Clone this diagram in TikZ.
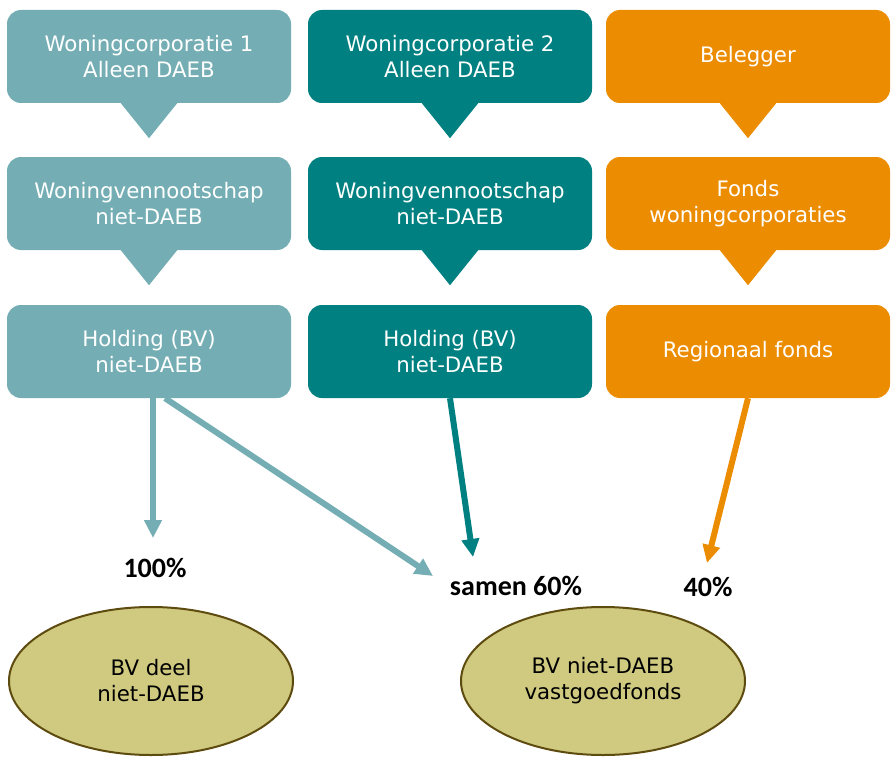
\documentclass[tikz,border=0pt]{standalone}
\usepackage{fontspec}
\setmainfont{DejaVu Sans}
\newfontfamily\labelfont{Carlito}
\usetikzlibrary{shapes.geometric,arrows.meta}
\definecolor{blauwgroen}{HTML}{74AEB4}
\definecolor{petrol}{HTML}{008080}
\definecolor{oranje}{HTML}{EC8C00}
\definecolor{kaki}{HTML}{CFCA80}
\definecolor{bruin}{HTML}{5E4B0F}
\tikzset{
  blok/.style={fill=#1, rounded corners=14pt, minimum width=284pt, minimum height=93pt,
    inner sep=0pt, text=white, align=center, font=\fontsize{21.3}{26}\selectfont},
  pijl/.style={draw=#1, line width=6pt, -{Triangle[width=17pt,length=18pt]}},
  pct/.style={font=\labelfont\bfseries\fontsize{28}{30}\selectfont},
  bv/.style={ellipse, draw=bruin, fill=kaki, line width=2pt, minimum width=284pt,
    minimum height=148pt, align=center, font=\fontsize{21.3}{26}\selectfont}
}
\begin{document}
\begin{tikzpicture}[x=1pt,y=-1pt]
    \useasboundingbox (0,0) rectangle (891,757);
    \foreach \n/\px/\kl/\ta/\tb/\tc in {
        1/149/blauwgroen/{Woningcorporatie 1\\Alleen DAEB}/{Woningvennootschap\\niet-DAEB}/{Holding (BV)\\niet-DAEB},
        2/450/petrol/{Woningcorporatie 2\\Alleen DAEB}/{Woningvennootschap\\niet-DAEB}/{Holding (BV)\\niet-DAEB},
        3/748/oranje/{Belegger}/{Fonds\\woningcorporaties}/{Regionaal fonds}} {
        \node[blok=\kl] (wc\n) at (\px,56.5) {\ta};
        \node[blok=\kl] (wv\n) at (\px,203.5) {\tb};
        \node[blok=\kl] (hd\n) at (\px,351.5) {\tc};
        \foreach \b in {wc\n,wv\n} {
            \fill[\kl] ([xshift=-29pt,yshift=1pt]\b.south) -- ([xshift=29pt,yshift=1pt]\b.south)
                -- ([yshift=-35pt]\b.south) -- cycle;
        }
    }
    \coordinate (e1) at (153,538);
    \coordinate (e2) at (433,576);
    \coordinate (e3) at (473,557);
    \coordinate (e4) at (707,563);
    \draw[pijl=blauwgroen] ([xshift=4pt]hd1.south) -- (e1);
    \draw[pijl=blauwgroen] ([xshift=16pt]hd1.south) -- (e2);
    \draw[pijl=petrol] (hd2.south) -- (e3);
    \draw[pijl=oranje] (hd3.south) -- (e4);
    \node[pct] (p100) at (155,568) {100\%};
    \node[pct] (p60) at (516,586) {samen 60\%};
    \node[pct] (p40) at (708,587) {40\%};
    \node[bv] (bv1) at (151,681) {BV deel\\niet-DAEB};
    \node[bv] (bv2) at (603,681) {BV niet-DAEB\\vastgoedfonds};
\end{tikzpicture}
\end{document}
